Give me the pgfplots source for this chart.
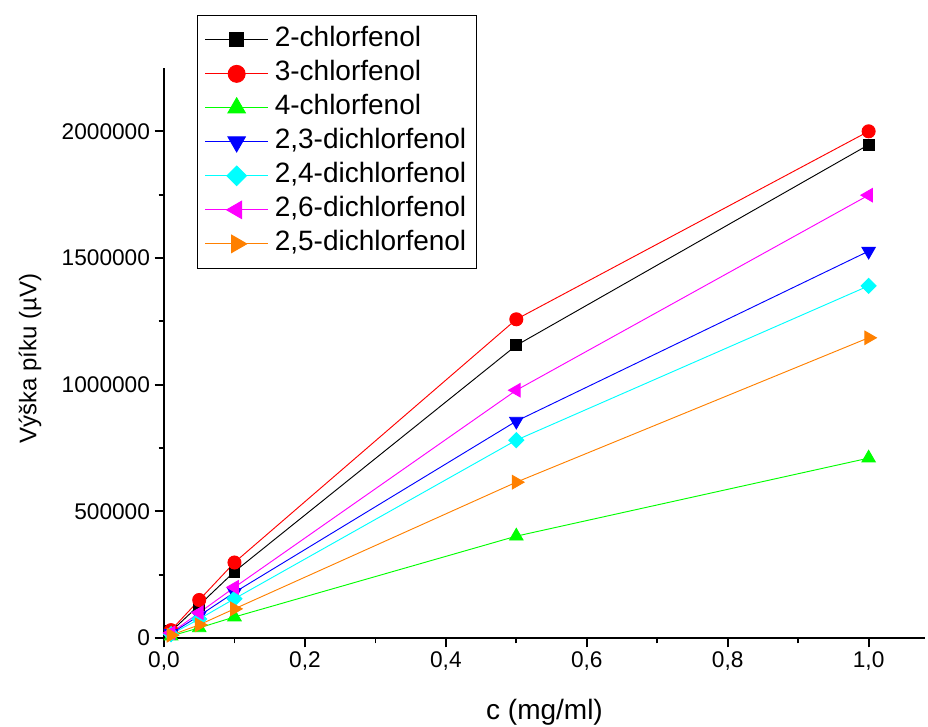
\documentclass[border=0pt]{standalone}
\usepackage{fontspec}
\setmainfont{Liberation Sans}
\usepackage{pgfplots}
\pgfplotsset{compat=1.18}
\definecolor{oorange}{RGB}{255,128,0}
\definecolor{ggreen}{RGB}{0,255,0}
\definecolor{ccyan}{RGB}{0,255,255}
\definecolor{mmagenta}{RGB}{255,0,255}
\definecolor{bblue}{RGB}{0,0,255}
\definecolor{rred}{RGB}{255,0,0}
\begin{document}
\begin{tikzpicture}
\begin{axis}[
  scale only axis, width=570.75pt, height=427.5pt,
  xmin=0, xmax=1.08, ymin=0, ymax=2250000,
  clip=false,
  axis lines*=left,
  axis line style={line width=1.3pt},
  tick align=outside, major tick length=7pt, minor tick length=4pt,
  every tick/.style={black, line width=1.3pt},
  xtick={0,0.2,0.4,0.6,0.8,1.0}, minor x tick num=1,
  ytick={0,500000,1000000,1500000,2000000}, minor y tick num=1,
  scaled ticks=false,
  /pgf/number format/assume math mode=true,
  xticklabel style={/pgf/number format/.cd, fixed, fixed zerofill, precision=1, use comma},
  yticklabel style={/pgf/number format/.cd, fixed, precision=0, 1000 sep={}},
  tick label style={font=\fontsize{17}{20}\selectfont},
  xlabel={c (mg/ml)}, ylabel={Výška píku (µV)},
  xlabel style={font=\fontsize{21}{25}\selectfont, at={(axis description cs:0.5,-0.13)}, anchor=center},
  ylabel style={font=\fontsize{18}{22}\selectfont, at={(axis description cs:-0.176,0.49)}, anchor=center},
  every axis plot/.append style={line width=0.7pt},
  legend image code/.code={
    \draw[#1] (0pt,0pt) -- (47pt,0pt);
    \draw[#1, /tikz/every mark/.append style={scale=1.3}] plot coordinates {(23.5pt,0pt)};
  },
  legend style={at={(axis description cs:0,1)}, anchor=north west,
    xshift=24.75pt, yshift=39.75pt,
    draw=black, line width=0.8pt,
    inner xsep=5.5pt, inner ysep=7pt,
    row sep=3pt, column sep=2.75pt,
    font=\fontsize{21}{25}\selectfont,
    nodes={inner sep=2pt, text height=14.5pt, text depth=4pt},
    cells={anchor=west}},
]
\addplot[black, mark=square*, mark size=4.1pt, mark options={solid, fill=black}] coordinates {
 (0.01,26000) (0.05,130000) (0.1,262000) (0.5,1155000) (1.0,1947000)};
\addlegendentry{2-chlorfenol}
\addplot[rred, mark=*, mark size=4.9pt, mark options={fill=rred}] coordinates {
 (0.01,31000) (0.05,150000) (0.1,298000) (0.5,1258000) (1.0,2000000)};
\addlegendentry{3-chlorfenol}
\addplot[ggreen, mark=triangle*, mark size=5.8pt, mark options={fill=ggreen}] coordinates {
 (0.01,8000) (0.05,40000) (0.1,83000) (0.5,402000) (1.0,710000)};
\addlegendentry{4-chlorfenol}
\addplot[bblue, mark=triangle*, mark size=5.8pt, mark options={fill=bblue, rotate=180}] coordinates {
 (0.01,18000) (0.05,88000) (0.1,180000) (0.5,856000) (1.0,1527000)};
\addlegendentry{2,3-dichlorfenol}
\addplot[ccyan, mark=square*, mark size=4pt, mark options={fill=ccyan, rotate=45}] coordinates {
 (0.01,15000) (0.05,75000) (0.1,155000) (0.5,781000) (1.0,1390000)};
\addlegendentry{2,4-dichlorfenol}
\addplot[mmagenta, mark=triangle*, mark size=5.8pt, mark options={fill=mmagenta, rotate=90}] coordinates {
 (0.01,20000) (0.05,100000) (0.1,200000) (0.5,978000) (1.0,1748000)};
\addlegendentry{2,6-dichlorfenol}
\addplot[oorange, mark=triangle*, mark size=5.8pt, mark options={fill=oorange, rotate=-90}] coordinates {
 (0.01,11000) (0.05,52000) (0.1,115000) (0.5,615000) (1.0,1185000)};
\addlegendentry{2,5-dichlorfenol}
\end{axis}
\pgfresetboundingbox
\useasboundingbox ([shift={(-123pt,-66.75pt)}]current axis.south west) rectangle ([shift={(2.25pt,51pt)}]current axis.north east);
\end{tikzpicture}
\end{document}
